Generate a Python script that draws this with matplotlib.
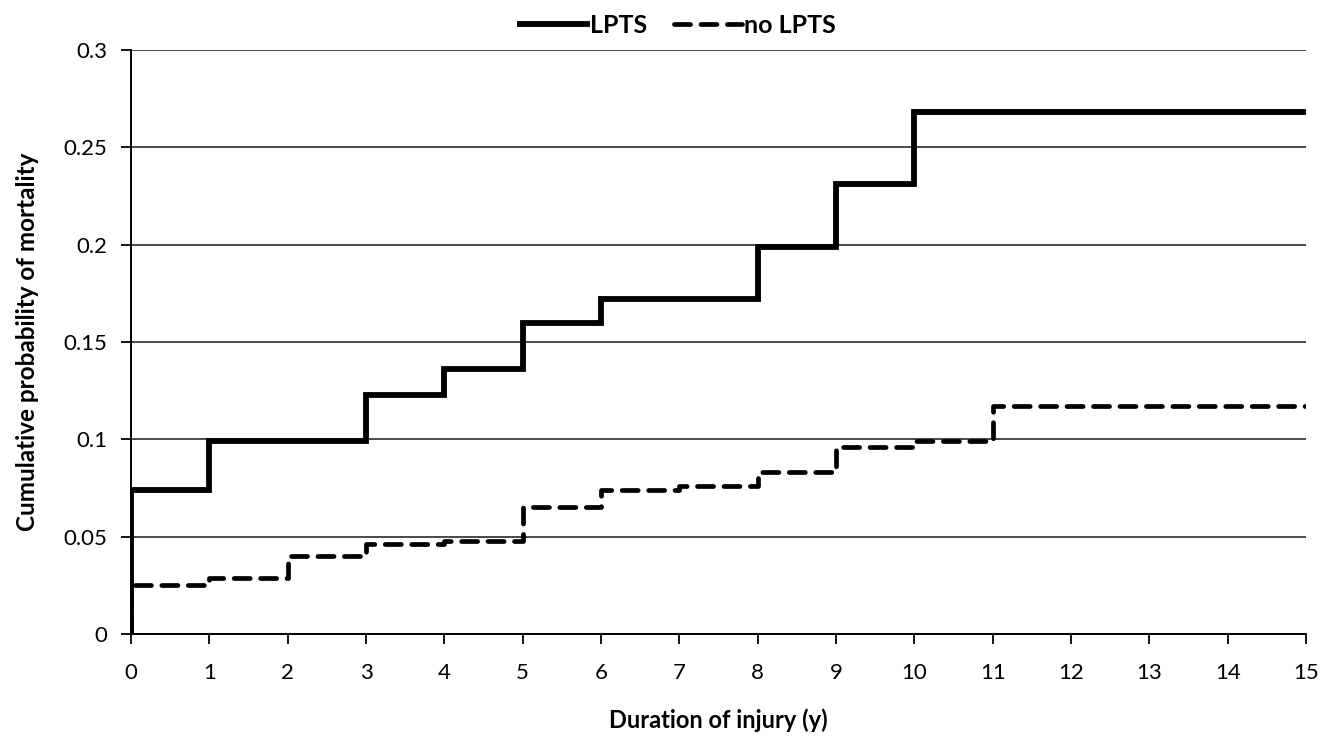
import matplotlib
matplotlib.use("Agg")
import matplotlib.pyplot as plt

# ── data ──────────────────────────────────────────────────────────────────
years_lpts = [0, 0, 1, 3, 4, 5, 6, 8, 9, 10, 15]
prob_lpts = [0, 0.074, 0.099, 0.123, 0.136, 0.160, 0.172, 0.199, 0.231, 0.268, 0.268]

years_no = [0, 0, 1, 2, 3, 4, 5, 6, 7, 8, 9, 10, 11, 15]
prob_no = [0, 0.025, 0.029, 0.040, 0.046, 0.048, 0.065, 0.074, 0.076, 0.083,
           0.096, 0.099, 0.117, 0.117]

x_ticks = list(range(0, 16))
y_ticks = [0, 0.05, 0.1, 0.15, 0.2, 0.25, 0.3]
y_labels = ["0", "0.05", "0.1", "0.15", "0.2", "0.25", "0.3"]

plt.rcParams["font.family"] = ["Lato", "DejaVu Sans"]

fig = plt.figure(figsize=(13.29, 7.40), dpi=100)
ax = fig.add_axes([0.0986, 0.1432, 0.8841, 0.7892])

for y in y_ticks[1:]:
    ax.axhline(y, color="#3a3a3a", lw=1.3, zorder=1)

ax.plot(years_lpts, prob_lpts, drawstyle="steps-post", color="black",
        lw=4.2, solid_joinstyle="miter", label="LPTS", zorder=3)
ax.plot(years_no, prob_no, drawstyle="steps-post", color="black",
        lw=3.4, dashes=(3.4, 2.2), dash_capstyle="round",
        label="no LPTS", zorder=2)

ax.set_xlim(0, 15)
ax.set_ylim(0, 0.3)
ax.set_xticks(x_ticks)
ax.set_yticks(y_ticks)
ax.set_yticklabels(y_labels)

for side in ("top", "right"):
    ax.spines[side].set_visible(False)
for side in ("left", "bottom"):
    ax.spines[side].set_linewidth(1.4)
    ax.spines[side].set_color("black")

ax.tick_params(axis="both", direction="out", length=7, width=1.3,
               labelsize=16, colors="black")
ax.tick_params(axis="x", pad=14)
ax.tick_params(axis="y", pad=10)

ax.set_xlabel("Duration of injury (y)", fontsize=17, fontweight="bold",
              labelpad=18)
ax.set_ylabel("Cumulative probability of mortality", fontsize=17.5,
              fontweight="bold", labelpad=18)

fig.legend(loc="upper center", bbox_to_anchor=(0.51, 1.012), ncol=2,
           frameon=False, handlelength=2.7, handletextpad=0.1,
           columnspacing=1.1, prop={"size": 18, "weight": "bold"})

fig.savefig("out.png", dpi=100)
